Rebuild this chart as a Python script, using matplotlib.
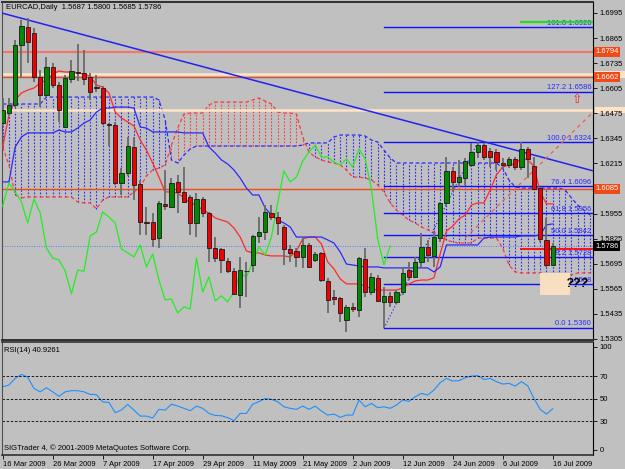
import numpy as np
import matplotlib
matplotlib.use("Agg")
import matplotlib.pyplot as plt
from matplotlib.patches import Rectangle
from matplotlib.transforms import blended_transform_factory

plt.rcParams['font.family'] = ['Liberation Sans', 'DejaVu Sans']

# daily candles, 16 Mar 2009 .. 16 Jul 2009
opens = [1.6424, 1.6476, 1.6518, 1.6829, 1.6922, 1.6891, 1.6663, 1.6570, 1.6715, 1.6621,
         1.6404, 1.6652, 1.6688, 1.6683, 1.6663, 1.6611, 1.6606, 1.6419, 1.6414, 1.6113,
         1.6165, 1.6300, 1.6108, 1.5911, 1.5911, 1.5828, 1.6005, 1.5989, 1.6119, 1.6067,
         1.6041, 1.5906, 1.6030, 1.5958, 1.5776, 1.5771, 1.5709, 1.5657, 1.5533, 1.5659,
         1.5688, 1.5839, 1.5859, 1.5958, 1.5937, 1.5885, 1.5771, 1.5761, 1.5730, 1.5792,
         1.5714, 1.5751, 1.5605, 1.5522, 1.5517, 1.5403, 1.5471, 1.5455, 1.5719, 1.5548,
         1.5621, 1.5497, 1.5528, 1.5497, 1.5548, 1.5662, 1.5626, 1.5704, 1.5782, 1.5735,
         1.5828, 1.6010, 1.6176, 1.6119, 1.6139, 1.6207, 1.6274, 1.6310, 1.6279, 1.6274,
         1.6217, 1.6207, 1.6238, 1.6196, 1.6290, 1.6201, 1.6087, 1.5818, 1.5687]
highs = [1.6554, 1.6554, 1.6855, 1.6958, 1.6969, 1.6917, 1.6699, 1.6767, 1.6735, 1.6637,
         1.6673, 1.6751, 1.6834, 1.6803, 1.6683, 1.6673, 1.6616, 1.6424, 1.6430, 1.6191,
         1.6352, 1.6352, 1.6129, 1.5989, 1.5958, 1.6020, 1.6181, 1.6139, 1.6155, 1.6196,
         1.6051, 1.6061, 1.6041, 1.5963, 1.5833, 1.5776, 1.5724, 1.5673, 1.5730, 1.5704,
         1.5844, 1.5937, 1.5999, 1.5999, 1.5963, 1.5895, 1.5792, 1.5776, 1.5833, 1.5802,
         1.5756, 1.5756, 1.5621, 1.5558, 1.5522, 1.5481, 1.5491, 1.5730, 1.5776, 1.5647,
         1.5636, 1.5574, 1.5548, 1.5558, 1.5678, 1.5704, 1.5730, 1.5854, 1.5818, 1.5859,
         1.6015, 1.6248, 1.6196, 1.6233, 1.6243, 1.6321, 1.6324, 1.6321, 1.6295, 1.6290,
         1.6243, 1.6248, 1.6248, 1.6326, 1.6300, 1.6248, 1.6093, 1.5932, 1.5800]
lows = [1.6414, 1.6466, 1.6507, 1.6663, 1.6735, 1.6637, 1.6507, 1.6559, 1.6606, 1.6430,
        1.6398, 1.6632, 1.6642, 1.6621, 1.6544, 1.6585, 1.6414, 1.6303, 1.6103, 1.6051,
        1.6149, 1.6025, 1.5844, 1.5844, 1.5782, 1.5776, 1.5973, 1.5984, 1.5958, 1.6010,
        1.5844, 1.5833, 1.5937, 1.5704, 1.5704, 1.5647, 1.5647, 1.5533, 1.5465, 1.5522,
        1.5652, 1.5802, 1.5818, 1.5921, 1.5844, 1.5688, 1.5704, 1.5678, 1.5673, 1.5673,
        1.5704, 1.5600, 1.5439, 1.5481, 1.5393, 1.5341, 1.5445, 1.5419, 1.5522, 1.5533,
        1.5497, 1.5360, 1.5471, 1.5486, 1.5533, 1.5610, 1.5621, 1.5678, 1.5704, 1.5678,
        1.5807, 1.5999, 1.6067, 1.6093, 1.6103, 1.6196, 1.6243, 1.6233, 1.6196, 1.6181,
        1.6191, 1.6191, 1.6181, 1.6181, 1.6139, 1.6077, 1.5807, 1.5678, 1.5685]
closes = [1.6492, 1.6518, 1.6829, 1.6927, 1.6844, 1.6663, 1.6570, 1.6715, 1.6621, 1.6492,
          1.6658, 1.6694, 1.6683, 1.6652, 1.6585, 1.6606, 1.6424, 1.6414, 1.6113, 1.6165,
          1.6305, 1.6103, 1.5911, 1.5906, 1.5823, 1.6010, 1.5994, 1.6113, 1.6067, 1.6015,
          1.5906, 1.6030, 1.5958, 1.5776, 1.5724, 1.5714, 1.5657, 1.5538, 1.5662, 1.5655,
          1.5839, 1.5859, 1.5963, 1.5937, 1.5906, 1.5771, 1.5751, 1.5730, 1.5792, 1.5678,
          1.5745, 1.5610, 1.5507, 1.5512, 1.5439, 1.5471, 1.5460, 1.5724, 1.5548, 1.5626,
          1.5502, 1.5528, 1.5497, 1.5548, 1.5647, 1.5626, 1.5704, 1.5782, 1.5740, 1.5833,
          1.6010, 1.6176, 1.6119, 1.6144, 1.6227, 1.6274, 1.6310, 1.6248, 1.6248, 1.6222,
          1.6207, 1.6238, 1.6196, 1.6290, 1.6238, 1.6082, 1.5823, 1.5688, 1.5786]

# ichimoku lines as drawn
tenkan = [1.6300, 1.6466, 1.6544, 1.6580, 1.6595, 1.6606, 1.6632, 1.6647, 1.6678, 1.6694,
          1.6689, 1.6689, 1.6684, 1.6678, 1.6668, 1.6621, 1.6611, 1.6580, 1.6481, 1.6450,
          1.6430, 1.6409, 1.6336, 1.6284, 1.6217, 1.6144, 1.6067, 1.6067, 1.6061, 1.6036,
          1.6010, 1.5999, 1.5973, 1.5958, 1.5932, 1.5921, 1.5911, 1.5880, 1.5833, 1.5761,
          1.5751, 1.5751, 1.5740, 1.5735, 1.5735, 1.5735, 1.5730, 1.5761, 1.5823, 1.5833,
          1.5833, 1.5797, 1.5704, 1.5668, 1.5616, 1.5590, 1.5590, 1.5590, 1.5579, 1.5564,
          1.5558, 1.5558, 1.5558, 1.5558, 1.5569, 1.5590, 1.5605, 1.5610, 1.5610, 1.5621,
          1.5745, 1.5864, 1.5890, 1.5927, 1.5947, 1.5999, 1.6010, 1.6010, 1.6077, 1.6155,
          1.6196, 1.6207, 1.6212, 1.6243, 1.6233, 1.6201, 1.6067, 1.6005, 1.6005]
kijun = [1.6119, 1.6119, 1.6300, 1.6352, 1.6373, 1.6373, 1.6373, 1.6373, 1.6373, 1.6388,
         1.6378, 1.6378, 1.6398, 1.6424, 1.6440, 1.6481, 1.6502, 1.6502, 1.6507, 1.6507,
         1.6507, 1.6502, 1.6404, 1.6398, 1.6378, 1.6378, 1.6378, 1.6378, 1.6378, 1.6373,
         1.6373, 1.6373, 1.6373, 1.6300, 1.6269, 1.6233, 1.6212, 1.6181, 1.6139, 1.6087,
         1.6051, 1.6051, 1.5984, 1.5947, 1.5921, 1.5906, 1.5885, 1.5833, 1.5833, 1.5833,
         1.5833, 1.5833, 1.5818, 1.5802, 1.5756, 1.5693, 1.5688, 1.5683, 1.5678, 1.5678,
         1.5678, 1.5673, 1.5673, 1.5673, 1.5673, 1.5673, 1.5673, 1.5673, 1.5673, 1.5652,
         1.5678, 1.5792, 1.5792, 1.5792, 1.5792, 1.5792, 1.5792, 1.5828, 1.5833, 1.5833,
         1.5833, 1.5833, 1.5833, 1.5839, 1.5839, 1.5839, 1.5844, 1.5896, 1.5901]
span_a = [1.6523, 1.6523, 1.6523, 1.6523, 1.6523, 1.6523, 1.6523, 1.6559, 1.6559, 1.6559,
          1.6559, 1.6559, 1.6559, 1.6559, 1.6559, 1.6559, 1.6559, 1.6559, 1.6559, 1.6559,
          1.6559, 1.6559, 1.6559, 1.6559, 1.6559, 1.6544, 1.6440, 1.6233, 1.6217, 1.6258,
          1.6290, 1.6305, 1.6305, 1.6305, 1.6305, 1.6305, 1.6305, 1.6305, 1.6305, 1.6305,
          1.6305, 1.6305, 1.6305, 1.6305, 1.6305, 1.6305, 1.6305, 1.6305, 1.6310, 1.6321,
          1.6321, 1.6321, 1.6321, 1.6352, 1.6362, 1.6362, 1.6362, 1.6362, 1.6357, 1.6336,
          1.6326, 1.6284, 1.6243, 1.6217, 1.6217, 1.6217, 1.6217, 1.6217, 1.6217, 1.6217,
          1.6217, 1.6217, 1.6217, 1.6217, 1.6217, 1.6217, 1.6217, 1.6217, 1.6217, 1.6217,
          1.6191, 1.6129, 1.6093, 1.6087, 1.6087, 1.6087, 1.6087, 1.6087, 1.6087, 1.6087,
          1.6077, 1.6036, 1.5999, 1.5973, 1.5947]
span_b = [1.6300, 1.6207, 1.6051, 1.6036, 1.6041, 1.6041, 1.6041, 1.6041, 1.6041, 1.6041,
          1.6041, 1.6041, 1.6015, 1.6010, 1.6010, 1.5979, 1.6025, 1.6041, 1.6041, 1.6041,
          1.6041, 1.6067, 1.6093, 1.6150, 1.6181, 1.6191, 1.6207, 1.6310, 1.6398, 1.6471,
          1.6476, 1.6476, 1.6476, 1.6518, 1.6533, 1.6533, 1.6533, 1.6533, 1.6533, 1.6533,
          1.6544, 1.6554, 1.6538, 1.6523, 1.6481, 1.6476, 1.6476, 1.6471, 1.6352, 1.6274,
          1.6248, 1.6233, 1.6222, 1.6217, 1.6207, 1.6181, 1.6144, 1.6144, 1.6139, 1.6129,
          1.6103, 1.6067, 1.6010, 1.5973, 1.5947, 1.5921, 1.5906, 1.5885, 1.5870, 1.5859,
          1.5833, 1.5818, 1.5807, 1.5802, 1.5802, 1.5802, 1.5828, 1.5828, 1.5828, 1.5828,
          1.5776, 1.5688, 1.5652, 1.5647, 1.5647, 1.5647, 1.5647, 1.5636, 1.5636, 1.5636,
          1.5636, 1.5636, 1.5647, 1.5647, 1.5647]
chikou_shift = 26

rsi = [60.5, 62.0, 68.0, 71.5, 69.0, 59.0, 56.0, 59.6, 56.0, 52.0,
       56.0, 57.0, 57.0, 56.0, 53.7, 53.5, 47.0, 46.6, 37.4, 39.8,
       44.8, 39.8, 34.4, 34.4, 32.7, 40.4, 39.8, 45.0, 43.3, 41.3,
       39.2, 43.3, 41.3, 36.8, 35.0, 34.7, 33.0, 30.3, 36.8, 36.8,
       45.0, 47.2, 50.1, 49.3, 47.2, 42.7, 41.3, 40.4, 43.3, 40.4,
       43.3, 38.9, 35.3, 36.2, 33.3, 35.3, 35.3, 48.7, 42.7, 45.7,
       41.9, 42.7, 41.3, 44.2, 48.7, 47.5, 51.6, 54.6, 53.1, 57.6,
       64.1, 67.9, 65.6, 65.9, 68.5, 70.0, 70.5, 67.0, 67.9, 65.0,
       62.9, 63.5, 61.1, 65.0, 61.4, 50.1, 40.4, 36.2, 40.9]
rsi_levels = [30, 50, 70]

date_bars = [0, 8, 16, 24, 32, 40, 48, 56, 64, 72, 80, 88]
date_labels = ["16 Mar 2009", "26 Mar 2009", "7 Apr 2009", "17 Apr 2009", "29 Apr 2009",
               "11 May 2009", "21 May 2009", "2 Jun 2009", "12 Jun 2009", "24 Jun 2009",
               "6 Jul 2009", "16 Jul 2009"]
price_ticks = [1.6995, 1.6865, 1.6735, 1.6605, 1.6475, 1.6345, 1.6215,
               1.6085, 1.5955, 1.5825, 1.5695, 1.5565, 1.5435, 1.5305]

# drawn objects
fib_levels = [1.5360, 1.5588, 1.5728, 1.5842, 1.5956, 1.6096, 1.6324, 1.6586, 1.6920]
fib_names = ["0.0", "23.6", "38.2", "50.0", "61.8", "76.4", "100.0", "127.2", "161.8"]
fib_bars = [61, 76]
fib_prices = [1.5360, 1.6324]
trend_bars = [-0.16, 94.5]
trend_prices = [1.6995, 1.6176]
diag_bars = [74.0, 94.8]
diag_prices = [1.5828, 1.6492]
level_prices = [1.6794, 1.6678, 1.6661, 1.6492, 1.6083]
bid_price = 1.5786
short_start = 82.9
green_short = 1.6950
red_short = 1.5773
box_prices = [1.6794, 1.6661, 1.6083, 1.5786]
box_texts = ["1.6794", "1.6662", "1.6085", "1.5786"]
pale_box_prices = [1.6678, 1.6492]
note_bars = [86.0, 90.8]
note_prices = [1.5533, 1.5647]
note_text_at = (91.9, 1.5595)
arrow_at = (91.9, 1.6544)

W, H = 625, 469
bg = '#c0c0c0'


def px_box(x0, y0, x1, y1):
    return [x0 / W, 1 - y1 / H, (x1 - x0) / W, (y1 - y0) / H]


fig = plt.figure(figsize=(6.25, 4.69), dpi=100, facecolor=bg)
ax = fig.add_axes(px_box(2, 2, 593, 340), facecolor=bg)
axr = fig.add_axes(px_box(2, 342, 593, 455), facecolor=bg)
xlim = (-0.11, 94.45)

# --- cloud ---
ci = np.arange(len(span_a))
a = np.array(span_a)
b = np.array(span_b)
bull = a >= b
ax.vlines(ci[bull], b[bull], a[bull], colors='#2a2aff', linestyles=(0, (1.5, 1.5)), lw=0.8, zorder=1)
ax.vlines(ci[~bull], a[~bull], b[~bull], colors='#ff3a3a', linestyles=(0, (1.5, 1.5)), lw=0.8, zorder=1)
ax.plot(ci, a, color='#2a2aff', ls=(0, (3, 2)), lw=0.9, zorder=1)
ax.plot(ci, b, color='#ff3a3a', ls=(0, (3, 2)), lw=0.9, zorder=1)

# --- horizontal objects ---
level_colors = ['#f07868', '#ffe4c4', '#d8502c', '#ffe4c4', '#f04a18']
level_widths = [1.6, 1.8, 1.0, 1.8, 1.0]
for p, col, w in zip(level_prices, level_colors, level_widths):
    ax.axhline(p, color=col, lw=w, zorder=2)
ax.axhline(bid_price, color='#5a78ff', ls=(0, (1, 1.5)), lw=0.7, zorder=2)

tr = blended_transform_factory(ax.transAxes, ax.transData)
for lvl, name in zip(fib_levels, fib_names):
    ax.plot([fib_bars[0], xlim[1]], [lvl, lvl], color='#1010ff', lw=1.0, zorder=3)
    ax.text(0.997, lvl + 0.0004, f"{name} {lvl:.4f}", transform=tr,
            ha='right', va='bottom', fontsize=5.5, color='#2a2aff', zorder=3)
ax.plot(fib_bars, fib_prices, color='#1010ff', ls=(0, (1, 2)), lw=0.8, zorder=3)
ax.plot([short_start, xlim[1]], [green_short, green_short], color='#22dd22', lw=1.6, zorder=3)
ax.plot([short_start, xlim[1]], [red_short, red_short], color='#ff1010', lw=1.4, zorder=3)

ax.plot(trend_bars, trend_prices, color='#2222ee', lw=1.1, zorder=3)
ax.plot(diag_bars, diag_prices, color='#f06050', ls=(0, (3, 3)), lw=0.9, zorder=3)

# --- ichimoku lines ---
n = len(closes)
idx = np.arange(n)
ax.plot(idx, tenkan, color='#ff2a2a', lw=0.9, zorder=4)
ax.plot(idx, kijun, color='#2a2aff', lw=0.9, zorder=4)
ax.plot(idx[:n - chikou_shift], closes[chikou_shift:], color='#22ee22', lw=0.9, zorder=4)

# --- candles ---
o = np.array(opens)
c = np.array(closes)
up = c >= o
lo = np.minimum(o, c)
hgt = np.maximum(np.abs(c - o), 0.0004)
ax.vlines(idx, lows, highs, color='#6a6a6a', lw=1.3, zorder=5)
ax.bar(idx[up], hgt[up], bottom=lo[up], width=0.68, color='#008a00', edgecolor='#1a1a1a', lw=0.6, zorder=6)
ax.bar(idx[~up], hgt[~up], bottom=lo[~up], width=0.68, color='#f00000', edgecolor='#1a1a1a', lw=0.6, zorder=6)

# note box and marks
ax.add_patch(Rectangle((note_bars[0], note_prices[0]), note_bars[1] - note_bars[0],
                       note_prices[1] - note_prices[0], facecolor='#f8dfc2', edgecolor='none', zorder=7))
ax.text(note_text_at[0], note_text_at[1] - 0.0004, "???", ha='center', va='center', fontsize=9,
        fontweight='bold', style='italic', color='black', zorder=8)
ax.text(arrow_at[0], arrow_at[1], "\u21e7", ha='center', va='center', fontsize=9, color='#ff2020',
        family='DejaVu Sans', zorder=8)

ax.text(0.006, 0.993, f"EURCAD,Daily  {opens[-1]:.4f} {highs[-1]:.4f} {lows[-1]:.4f} {closes[-1]:.4f}",
        transform=ax.transAxes, ha='left', va='top', fontsize=5.5, color='black')

ax.set_xlim(*xlim)
ax.set_ylim(1.5299, 1.7052)
ax.set_xticks([])
ax.yaxis.tick_right()
# the 1.6085 label sits under the red price box, so only the box text shows
tick_txt = ["" if abs(t - box_prices[2]) < 0.0008 else f"{t:.4f}" for t in price_ticks]
ax.set_yticks(price_ticks, tick_txt)
ax.tick_params(axis='y', direction='out', length=3, width=0.6, pad=1.5, labelsize=5.5, colors='black')

# price boxes on the scale
for p in pale_box_prices:
    ax.add_patch(Rectangle((1.003, p - 0.0018), 0.052, 0.0036, transform=tr, clip_on=False,
                           facecolor='#ffe4c4', edgecolor='none', zorder=1))
box_face = ['#f04a18', '#f04a18', '#f04a18', '#000000']
for p, t, fc in zip(box_prices, box_texts, box_face):
    ax.text(1.004, p, t, transform=tr, ha='left', va='center', fontsize=5.5, color='white', zorder=5,
            bbox=dict(boxstyle='square,pad=0.2', fc=fc, ec='none'))

for s in ['top', 'bottom']:
    ax.spines[s].set_color('#303030')
    ax.spines[s].set_linewidth(1.4)
ax.spines['left'].set_color('#505050')
ax.spines['left'].set_linewidth(0.8)
ax.spines['right'].set_color('black')
ax.spines['right'].set_linewidth(0.8)

# --- RSI pane ---
axr.plot(idx, rsi, color='#1e8fff', lw=0.8)
for lvl in rsi_levels:
    axr.axhline(lvl, color='black', ls=(0, (3, 2)), lw=0.6)
axr.set_xlim(*xlim)
axr.set_ylim(-0.2, 100.3)
axr.yaxis.tick_right()
axr.set_yticks([4.3, 30, 50, 70, 96.1], ['0', '30', '50', '70', '100'])
axr.tick_params(axis='y', direction='out', length=3, width=0.6, pad=1.5, labelsize=5.5, colors='black')
axr.set_xticks(date_bars, date_labels, ha='left')
axr.tick_params(axis='x', direction='out', length=3, width=0.6, pad=1, labelsize=5.5, colors='black')
axr.text(0.004, 0.96, "RSI(14) 40.9261", transform=axr.transAxes, ha='left', va='top', fontsize=5.5)
axr.text(0.004, 0.03, "SIGTrader 4, \u00a9 2001-2009 MetaQuotes Software Corp.", transform=axr.transAxes,
         ha='left', va='bottom', fontsize=5.5)
for s in ['top', 'bottom']:
    axr.spines[s].set_color('#303030')
    axr.spines[s].set_linewidth(1.2)
axr.spines['left'].set_color('#505050')
axr.spines['left'].set_linewidth(0.8)
axr.spines['right'].set_color('black')
axr.spines['right'].set_linewidth(0.8)

fig.savefig("out.png", dpi=100, facecolor=bg)
